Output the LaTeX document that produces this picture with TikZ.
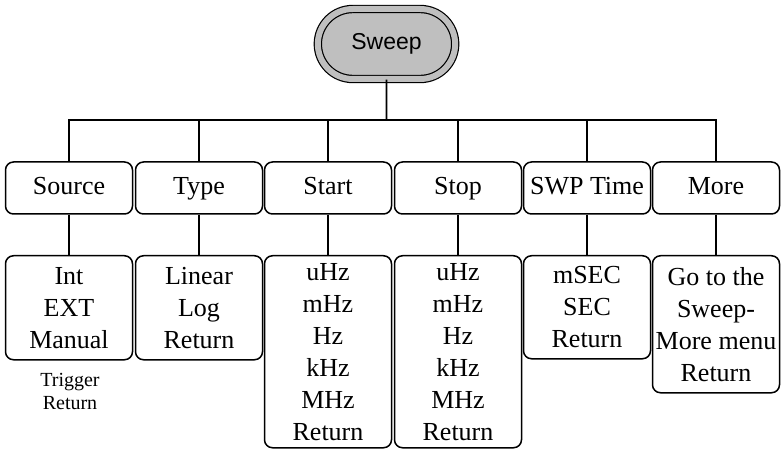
\documentclass[tikz,border=0pt]{standalone}
\usepackage{fontspec}
\setmainfont{Liberation Serif}
\setsansfont{Liberation Sans}
\usetikzlibrary{shapes.misc}

\begin{document}
\begin{tikzpicture}[
    x=1pt,y=-1pt,
    root/.style={rounded rectangle,draw,line width=1.2pt,double=gray!50,double distance=6pt,fill=gray!50,minimum width=144pt,minimum height=70pt,font=\sffamily\fontsize{23}{27}\selectfont},
    menu/.style={draw,rounded corners=8pt,line width=1.5pt,minimum width=127pt,minimum height=52pt,text height=19pt,text depth=5pt,font=\fontsize{26}{32}\selectfont,inner sep=0pt},
    sub/.style={draw,rounded corners=8pt,line width=1.5pt,minimum width=127pt,anchor=north,align=center,font=\fontsize{26}{32}\selectfont,inner sep=0pt},
    link/.style={line width=1.6pt}
]
    \useasboundingbox (0,0) rectangle (782,449);
    % Root
    \node[root] (sweep) at (386.5,44) {Sweep};
    \coordinate (bus) at (386.5,120);
    % Top row: menu keys
    \node[menu] (source) at (69,188) {Source};
    \node[menu] (type) at (199,188) {Type};
    \node[menu] (start) at (328,188) {Start};
    \node[menu] (stop) at (458,188) {Stop};
    \node[menu] (swptime) at (587,188) {SWP Time};
    \node[menu] (more) at (716,188) {More};
    % Bottom row: options
    \node[sub,minimum height=104pt] (srcopt) at (69,255) {Int\\EXT\\Manual};
    \node[sub,minimum height=104pt] (typeopt) at (199,255) {Linear\\Log\\Return};
    \node[sub,minimum height=192pt] (startopt) at (328,255) {uHz\\mHz\\Hz\\kHz\\MHz\\Return};
    \node[sub,minimum height=192pt] (stopopt) at (458,255) {uHz\\mHz\\Hz\\kHz\\MHz\\Return};
    \node[sub,minimum height=103pt] (swpopt) at (587,255) {mSEC\\SEC\\Return};
    \node[sub,minimum height=137pt] (moreopt) at (716,255) {Go to the\\Sweep-\\More menu\\Return};
    \node[align=center,font=\fontsize{20}{23}\selectfont] (trig) at (70,391) {Trigger\\Return};
    % Connectors
    \draw[link] (sweep) -- (bus);
    \draw[link] (bus) -| (source);
    \draw[link] (bus) -| (type);
    \draw[link] (bus) -| (start);
    \draw[link] (bus) -| (stop);
    \draw[link] (bus) -| (swptime);
    \draw[link] (bus) -| (more);
    \draw[link] (source) -- (srcopt);
    \draw[link] (type) -- (typeopt);
    \draw[link] (start) -- (startopt);
    \draw[link] (stop) -- (stopopt);
    \draw[link] (swptime) -- (swpopt);
    \draw[link] (more) -- (moreopt);
\end{tikzpicture}
\end{document}
